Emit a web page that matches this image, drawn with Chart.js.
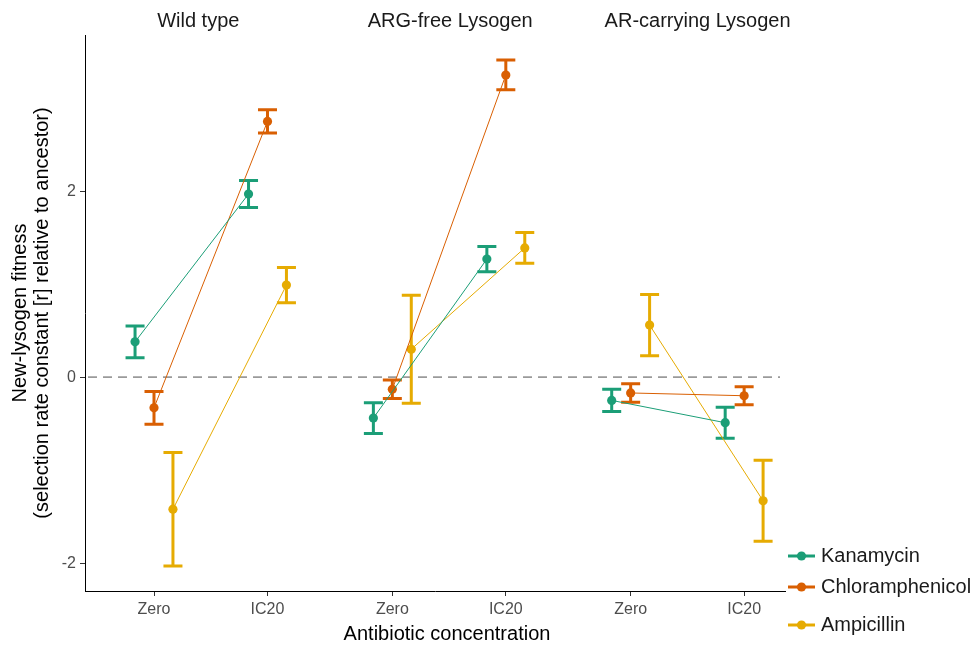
<!DOCTYPE html>
<html>
<head>
<meta charset="utf-8">
<script src="https://cdn.jsdelivr.net/npm/chart.js@4.4.0/dist/chart.umd.min.js"></script>
<style>
  html, body { margin: 0; padding: 0; background: #fff; }
  #wrap { width: 974px; height: 646px; }
</style>
</head>
<body>
<div id="wrap"><canvas id="fitness" width="974" height="646"></canvas></div>
<script>
// categories along x (three panels, two concentrations each)
const concentrations = ['Zero', 'IC20', 'Zero', 'IC20', 'Zero', 'IC20'];
const concentrationPos = [0, 1, 2.1, 3.1, 4.2, 5.2];
const panelTitles = ['Wild type', 'ARG-free Lysogen', 'AR-carrying Lysogen'];
const panelTitlePos = [0.39, 2.61, 4.79];
const yTicks = [-2, 0, 2];

const antibiotics = ['Kanamycin', 'Chloramphenicol', 'Ampicillin'];
const colors = ['#1b9e77', '#d95f02', '#e6ab02'];
const dodge = [-0.167, 0, 0.167];

// mean fitness and standard error, order follows concentrations
const kanamycinMean = [0.38, 1.97, -0.44, 1.27, -0.25, -0.49];
const kanamycinSE   = [0.17, 0.145, 0.165, 0.135, 0.12, 0.167];
const chloramphenicolMean = [-0.33, 2.75, -0.13, 3.25, -0.17, -0.20];
const chloramphenicolSE   = [0.177, 0.125, 0.10, 0.16, 0.10, 0.097];
const ampicillinMean = [-1.42, 0.99, 0.30, 1.39, 0.56, -1.33];
const ampicillinSE   = [0.61, 0.19, 0.58, 0.165, 0.33, 0.435];

const means = [kanamycinMean, chloramphenicolMean, ampicillinMean];
const errors = [kanamycinSE, chloramphenicolSE, ampicillinSE];

const FONT = "'Liberation Sans', Arial, Helvetica, sans-serif";

function buildPoints(m, se, offset) {
    const pts = [];
    for (let i = 0; i < m.length; i++) {
        pts.push({x: concentrationPos[i] + offset, y: m[i], se: se[i]});
        // break the line between panels
        if (i % 2 == 1 && i < m.length - 1)
            pts.push({x: concentrationPos[i] + offset + 0.5, y: null});
    }
    return pts;
}

const datasets = antibiotics.map((name, k) => ({
    label: name,
    data: buildPoints(means[k], errors[k], dodge[k]),
    showLine: true,
    spanGaps: false,
    borderColor: colors[k],
    backgroundColor: colors[k],
    borderWidth: 1,
    pointRadius: 4.6,
    pointBorderWidth: 0,
    pointHoverRadius: 4.6
}));

const zeroLine = {
    id: 'zeroLine',
    beforeDatasetsDraw(chart) {
        const ctx = chart.ctx, a = chart.chartArea;
        const y = chart.scales.y.getPixelForValue(0);
        ctx.save();
        ctx.strokeStyle = '#9a9a9a';
        ctx.lineWidth = 1.7;
        ctx.setLineDash([9, 6]);
        ctx.beginPath();
        ctx.moveTo(a.left + 3, y);
        ctx.lineTo(a.right - 5, y);
        ctx.stroke();
        ctx.restore();
    }
};

const errorBars = {
    id: 'errorBars',
    beforeDatasetsDraw(chart) {
        const ctx = chart.ctx;
        const xs = chart.scales.x, ys = chart.scales.y;
        ctx.save();
        ctx.lineWidth = 3;
        chart.data.datasets.forEach((ds) => {
            ctx.strokeStyle = ds.borderColor;
            ds.data.forEach((d) => {
                if (d.y === null) return;
                const px = xs.getPixelForValue(d.x);
                const top = ys.getPixelForValue(d.y + d.se);
                const bot = ys.getPixelForValue(d.y - d.se);
                ctx.beginPath();
                ctx.moveTo(px, top); ctx.lineTo(px, bot);
                ctx.moveTo(px - 9.5, top); ctx.lineTo(px + 9.5, top);
                ctx.moveTo(px - 9.5, bot); ctx.lineTo(px + 9.5, bot);
                ctx.stroke();
            });
        });
        ctx.restore();
    }
};

const labels = {
    id: 'labels',
    afterDraw(chart) {
        const ctx = chart.ctx, a = chart.chartArea;
        const xs = chart.scales.x;
        ctx.save();
        ctx.fillStyle = '#1a1a1a';
        ctx.font = '20px ' + FONT;
        ctx.textAlign = 'center';
        ctx.textBaseline = 'middle';
        // panel titles
        panelTitles.forEach((t, i) => {
            ctx.fillText(t, xs.getPixelForValue(panelTitlePos[i]), 21);
        });
        // x axis title
        ctx.fillStyle = '#000';
        ctx.fillText('Antibiotic concentration', 447, 634);
        // y axis title
        ctx.save();
        ctx.translate(20, (a.top + a.bottom) / 2);
        ctx.rotate(-Math.PI / 2);
        ctx.fillText('New-lysogen fitness', 0, 0);
        ctx.fillText('(selection rate constant [r] relative to ancestor)', 0, 22);
        ctx.restore();
        // legend
        const ly = [556, 587, 625];
        ctx.textAlign = 'left';
        antibiotics.forEach((name, k) => {
            ctx.strokeStyle = colors[k];
            ctx.fillStyle = colors[k];
            ctx.lineWidth = 3;
            ctx.beginPath();
            ctx.moveTo(788, ly[k]); ctx.lineTo(815, ly[k]);
            ctx.stroke();
            ctx.beginPath();
            ctx.arc(801.5, ly[k], 4.6, 0, Math.PI * 2);
            ctx.fill();
            ctx.fillStyle = '#1a1a1a';
            ctx.fillText(name, 821, ly[k]);
        });
        ctx.restore();
    }
};

new Chart(document.getElementById('fitness'), {
    type: 'scatter',
    data: { datasets: datasets },
    options: {
        responsive: false,
        animation: false,
        layout: { padding: { top: 35, right: 189, bottom: 0, left: 0 } },
        plugins: { legend: { display: false }, tooltip: { enabled: false } },
        scales: {
            x: {
                type: 'linear',
                min: -0.608,
                max: 5.56,
                afterFit: (s) => { s.height = 55; },
                afterBuildTicks: (s) => { s.ticks = concentrationPos.map(v => ({value: v})); },
                ticks: {
                    autoSkip: false,
                    maxRotation: 0,
                    padding: 4,
                    color: '#4d4d4d',
                    font: { family: FONT, size: 16 },
                    callback: (v) => concentrations[concentrationPos.indexOf(v)]
                },
                grid: { drawOnChartArea: false, drawTicks: true, tickLength: 5, color: '#333' },
                border: { display: true, color: '#000', width: 1 }
            },
            y: {
                min: -2.30,
                max: 3.68,
                afterFit: (s) => { s.width = 85; },
                afterBuildTicks: (s) => { s.ticks = yTicks.map(v => ({value: v})); },
                ticks: {
                    padding: 4,
                    color: '#4d4d4d',
                    font: { family: FONT, size: 16 }
                },
                grid: { drawOnChartArea: false, drawTicks: true, tickLength: 5, color: '#333' },
                border: { display: true, color: '#000', width: 1 }
            }
        }
    },
    plugins: [zeroLine, errorBars, labels]
});
</script>
</body>
</html>
